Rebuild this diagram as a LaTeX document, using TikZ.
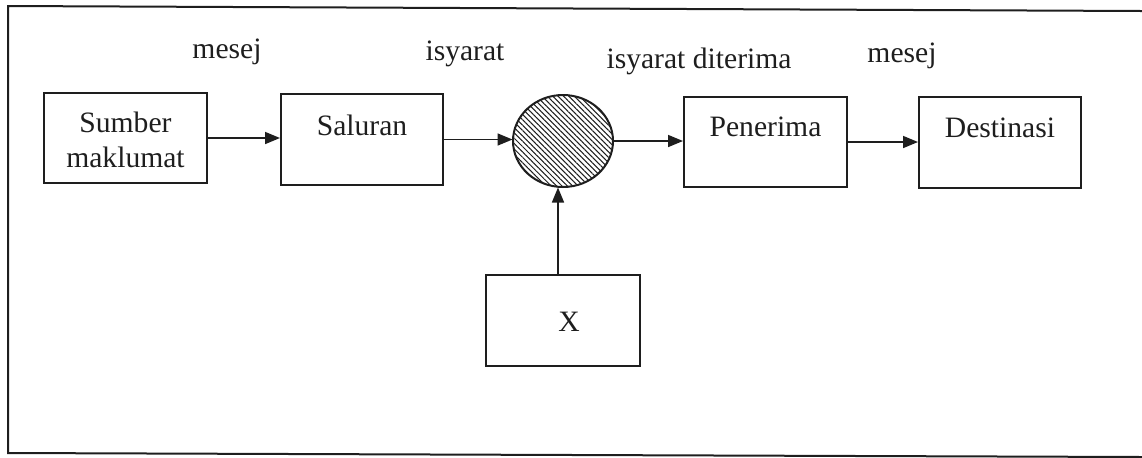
\documentclass[tikz,border=0pt]{standalone}
\usepackage{fontspec}
\setmainfont{Liberation Serif}
\usetikzlibrary{arrows.meta,patterns.meta,shapes.geometric}
\definecolor{ink}{HTML}{1E1E1E}
\begin{document}
\begin{tikzpicture}[x=0.5pt,y=-0.5pt,
  font=\fontsize{14.8pt}{17pt}\selectfont,
  boxnode/.style={draw=ink,line width=1pt,rectangle,inner sep=0pt},
  lbl/.style={anchor=base,inner sep=0pt,text=ink},
  arr/.style={draw=ink,line width=0.8pt,-{Triangle[length=7.5pt,width=6pt]}},
  frameline/.style={draw=ink,line width=1pt}]
\useasboundingbox (0,0) rectangle (1142,457);
% frame
\coordinate (ftl) at (8,6);
\coordinate (ftr) at (1142,11);
\coordinate (fbl) at (8,453);
\coordinate (fbr) at (1142,457);
\draw[frameline] (ftr) -- (ftl) -- (fbl) -- (fbr);
% boxes
\node[boxnode,minimum width=81.5pt,minimum height=45pt] (src) at (125.5,138) {};
\node[boxnode,minimum width=81pt,minimum height=45.5pt] (chan) at (362,139.5) {};
\node[draw=ink,line width=1pt,ellipse,inner sep=0pt,minimum width=50pt,minimum height=46pt,
      pattern={Lines[angle=-45,distance=1.9pt,line width=0.5pt]},pattern color=ink] (noise) at (563,141) {};
\node[boxnode,minimum width=81.5pt,minimum height=45pt] (recv) at (765.5,142) {};
\node[boxnode,minimum width=81pt,minimum height=45.5pt] (dest) at (1000,142.5) {};
\node[boxnode,minimum width=77pt,minimum height=45.5pt] (xbox) at (563,320.5) {};
% box texts
\node[lbl] (t1) at (125.5,132) {Sumber};
\node[lbl] (t2) at (125.5,167) {maklumat};
\node[lbl] (t3) at (362,135) {Saluran};
\node[lbl] (t4) at (765.5,136) {Penerima};
\node[lbl] (t5) at (1000,137) {Destinasi};
\node[lbl] (t6) at (569,331) {X};
% top labels
\node[lbl] (l1) at (227,58) {mesej};
\node[lbl] (l2) at (465,60) {isyarat};
\node[lbl] (l3) at (699,68) {isyarat diterima};
\node[lbl] (l4) at (902,62) {mesej};
% connectors
\draw[arr] (src.east) -- (src.east -| chan.west);
\draw[arr] (chan.east) -- (chan.east -| noise.west);
\draw[arr] (noise.east) -- (noise.east -| recv.west);
\draw[arr] (recv.east) -- (recv.east -| dest.west);
\draw[arr] ([xshift=-2.5pt]xbox.north) -- ([xshift=-2.5pt]noise.south);
\end{tikzpicture}
\end{document}
